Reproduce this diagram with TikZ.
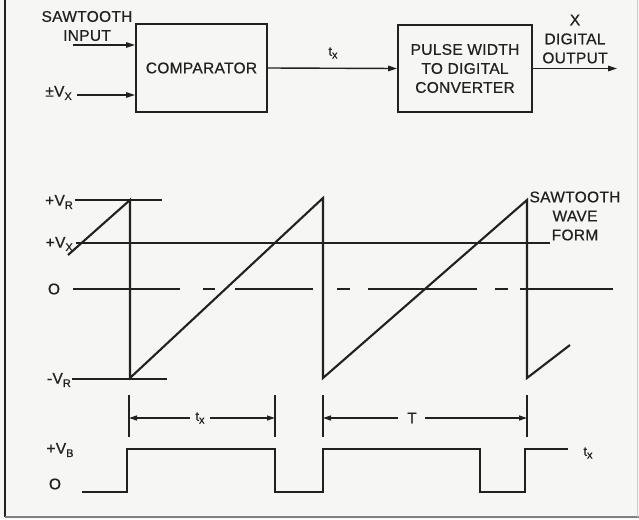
\documentclass[tikz,border=0pt]{standalone}
\usepackage{fontspec}
\setmainfont{Liberation Sans}[LetterSpace=2,FakeBold=0.6]
\usetikzlibrary{arrows.meta}
\newcommand{\lsub}[1]{\raisebox{-0.4ex}{\fontsize{11}{10}\selectfont #1}}
\definecolor{paper}{rgb}{0.965,0.965,0.955}
\definecolor{ink}{rgb}{0.13,0.13,0.13}
\begin{document}
\begin{tikzpicture}[x=1pt,y=-1pt,
  lbl/.style={font=\fontsize{15.5}{19}\selectfont, inner sep=0pt, align=center, text=ink},
  blk/.style={draw=ink, line width=1.8pt, inner sep=0pt, lbl},
  arr/.style={draw=ink, line width=1.4pt, -{Triangle[length=9pt,width=5.5pt]}},
  dim/.style={draw=ink, line width=1.2pt, -{Triangle[length=8pt,width=5pt]}},
  refl/.style={draw=ink, line width=1.2pt},
  wave/.style={draw=ink, line width=2.1pt, line join=miter},
  tick/.style={draw=ink, line width=1.2pt}]
% page
\fill[paper] (0,0) rectangle (639,519);
\useasboundingbox (0,0) rectangle (639,519);
\draw[ink, line width=2.4pt] (5,0) -- (5,517);
\draw[gray, line width=1.2pt] (5,517) -- (639,517);
\draw[gray!40, line width=1pt] (637.5,0) -- (637.5,517);

% block diagram
\node[blk, minimum width=131pt, minimum height=88pt] (comp) at (201.5,68) {COMPARATOR};
\node[blk, minimum width=134pt, minimum height=87pt] (pw) at (465,68.5) {PULSE WIDTH\\TO DIGITAL\\CONVERTER};
\node[lbl] (sawtxt) at (87,26) {SAWTOOTH\\INPUT};
\node[lbl, anchor=east] (vxin) at (72,93) {±V\lsub{X}};
\coordinate (sawin) at (73,45);
\coordinate (vxst) at (77,95);
\draw[arr] (sawin) -- (sawin -| comp.west);
\draw[arr] (vxst) -- (vxst -| comp.west);
\draw[arr] (comp.east) -- (pw.west);
\node[lbl] (txlab) at (333,53) {\fontsize{13}{13}\selectfont t\lsub{x}};
\coordinate (out) at (617,68.5);
\draw[arr] (pw.east) -- (out);
\node[lbl] (outtxt) at (575,39) {X\\DIGITAL\\OUTPUT};

% sawtooth waveform
\node[lbl, anchor=east] (lvr) at (73,202) {+V\lsub{R}};
\node[lbl, anchor=east] (lvx) at (73,244) {+V\lsub{X}};
\node[lbl] (l0) at (54,289) {O};
\node[lbl, anchor=east] (lmvr) at (71,380) {-V\lsub{R}};
\node[lbl] (sawwave) at (575,216) {SAWTOOTH\\WAVE\\FORM};

\draw[refl] (75,200) -- (162,200);
\draw[refl] (76,243) -- (550,243);
\draw[refl] (72,379) -- (167,379);
\foreach \a/\b in {73/180,203/215,235/313,337/350,368/477,495/508,520/613}
  \draw[refl] (\a,289) -- (\b,289);

\draw[wave] (68,255) -- (130,200) -- (130,378) -- (323,198) -- (323,378)
  -- (527,200) -- (527,378) -- (570,345);

% timing marks
\coordinate (t1a) at (129,395); \coordinate (t1b) at (129,437);
\coordinate (t2a) at (275,395); \coordinate (t2b) at (275,437);
\coordinate (t3a) at (323,395); \coordinate (t3b) at (323,437);
\coordinate (t4a) at (527,395); \coordinate (t4b) at (527,437);
\draw[tick] (t1a) -- (t1b);
\draw[tick] (t2a) -- (t2b);
\draw[tick] (t3a) -- (t3b);
\draw[tick] (t4a) -- (t4b);
\node[lbl] (dtx) at (200,418) {\fontsize{13}{13}\selectfont t\lsub{x}};
\node[lbl] (dT) at (412,418) {T};
\draw[dim] (dtx.west) ++(-5,0) coordinate (dtxw) -- (dtxw -| t1a);
\draw[dim] (dtx.east) ++(5,0) coordinate (dtxe) -- (dtxe -| t2a);
\draw[dim] (398,418) coordinate (dTw) -- (dTw -| t3a);
\draw[dim] (425,418) coordinate (dTe) -- (dTe -| t4a);

% pulse waveform
\node[lbl] (lvb) at (60,450) {+V\lsub{B}};
\node[lbl] (lp0) at (55,484) {O};
\draw[wave] (82,492) -- (127,492) -- (127,449) -- (275,449) -- (275,492)
  -- (323,492) -- (323,449) -- (480,449) -- (480,492) -- (525,492)
  -- (525,449) -- (568,449);
\node[lbl] (ptx) at (588,453) {\fontsize{13}{13}\selectfont t\lsub{x}};
\end{tikzpicture}
\end{document}
